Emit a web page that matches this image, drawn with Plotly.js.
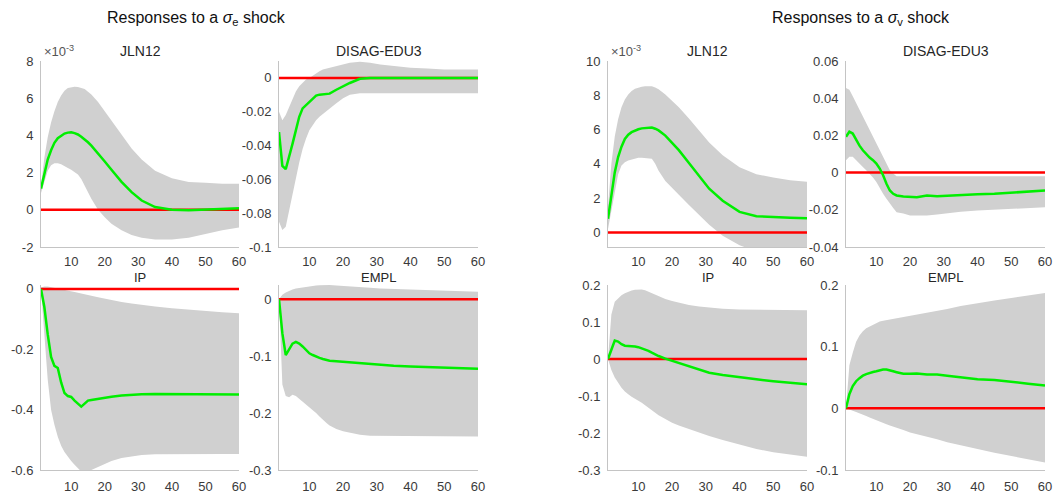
<!DOCTYPE html>
<html><head><meta charset="utf-8">
<script src="https://cdn.plot.ly/plotly-3.0.1.min.js"></script>
<style>html,body{margin:0;padding:0;background:#fff}#chart{width:1054px;height:500px}</style>
</head><body><div id="chart"></div>
<script>
// horizon (months)
const horizon = [1,2,3,4,5,6,7,8,9,10,11,12,13,14,15,16,18,20,22,25,28,31,35,40,45,50,55,60];

// ---- sigma_e shock ----
// JLN12 (x 10^-3)
const jlnE_mean = [1.14,2.0,2.7,3.2,3.6,3.85,4.0,4.1,4.15,4.17,4.12,4.05,3.93,3.8,3.63,3.45,3.05,2.6,2.15,1.5,0.95,0.5,0.15,0.0,-0.03,0.0,0.04,0.08];
const jlnE_hi   = [1.3,2.8,3.9,4.7,5.3,5.8,6.15,6.4,6.55,6.6,6.62,6.6,6.55,6.5,6.35,6.2,5.8,5.3,4.8,4.0,3.3,2.7,2.1,1.7,1.5,1.45,1.4,1.4];
const jlnE_lo   = [0.9,1.5,2.1,2.4,2.5,2.5,2.45,2.35,2.25,2.15,2.05,1.9,1.65,1.3,0.95,0.6,0.0,-0.4,-0.75,-1.1,-1.35,-1.5,-1.6,-1.6,-1.5,-1.3,-1.1,-0.95];
// DISAG-EDU3
const disE_mean = [-0.032,-0.052,-0.054,-0.047,-0.039,-0.031,-0.023,-0.018,-0.016,-0.014,-0.012,-0.0105,-0.0099,-0.0097,-0.0095,-0.0093,-0.007,-0.005,-0.003,-0.0005,0,0,0,0,0,0,0,0];
const disE_hi   = [-0.02,-0.025,-0.022,-0.017,-0.012,-0.008,-0.005,-0.003,-0.001,0.0,0.0015,0.003,0.004,0.005,0.0055,0.006,0.007,0.008,0.009,0.0095,0.009,0.008,0.007,0.006,0.0055,0.005,0.005,0.005];
const disE_lo   = [-0.085,-0.09,-0.088,-0.08,-0.07,-0.06,-0.05,-0.042,-0.036,-0.031,-0.028,-0.025,-0.023,-0.021,-0.0195,-0.018,-0.015,-0.012,-0.01,-0.009,-0.009,-0.009,-0.009,-0.009,-0.009,-0.009,-0.009,-0.009];
// IP
const ipE_mean = [0,-0.06,-0.15,-0.225,-0.255,-0.262,-0.31,-0.345,-0.355,-0.358,-0.37,-0.38,-0.39,-0.38,-0.37,-0.368,-0.364,-0.36,-0.357,-0.353,-0.35,-0.349,-0.348,-0.348,-0.349,-0.35,-0.35,-0.35];
const ipE_hi   = [0.005,0.008,0.008,0.006,0.004,0.002,0,-0.003,-0.005,-0.008,-0.01,-0.013,-0.015,-0.018,-0.02,-0.023,-0.028,-0.033,-0.037,-0.043,-0.048,-0.053,-0.058,-0.064,-0.069,-0.073,-0.077,-0.081];
const ipE_lo   = [0,-0.15,-0.3,-0.4,-0.45,-0.49,-0.52,-0.54,-0.555,-0.57,-0.583,-0.595,-0.605,-0.61,-0.605,-0.6,-0.59,-0.58,-0.57,-0.56,-0.555,-0.55,-0.548,-0.547,-0.547,-0.547,-0.547,-0.547];
// EMPL
const emE_mean = [0,-0.06,-0.098,-0.088,-0.078,-0.075,-0.078,-0.083,-0.09,-0.095,-0.098,-0.101,-0.103,-0.105,-0.107,-0.108,-0.109,-0.11,-0.111,-0.112,-0.114,-0.115,-0.117,-0.118,-0.119,-0.12,-0.121,-0.122];
const emE_hi   = [0,0.008,0.012,0.015,0.017,0.019,0.02,0.021,0.022,0.023,0.0235,0.024,0.0245,0.025,0.025,0.025,0.024,0.023,0.022,0.021,0.02,0.019,0.018,0.017,0.016,0.015,0.014,0.013];
const emE_lo   = [0,-0.15,-0.17,-0.172,-0.168,-0.17,-0.175,-0.18,-0.185,-0.19,-0.195,-0.2,-0.206,-0.212,-0.217,-0.222,-0.228,-0.232,-0.235,-0.238,-0.24,-0.241,-0.241,-0.241,-0.241,-0.241,-0.241,-0.241];

// ---- sigma_v shock ----
const jlnV_mean = [0.8,2.2,3.5,4.4,5.0,5.45,5.7,5.85,5.95,6.02,6.07,6.1,6.12,6.12,6.05,5.95,5.65,5.25,4.8,4.05,3.3,2.55,1.85,1.2,0.95,0.88,0.85,0.82];
const jlnV_hi   = [1.5,4.0,5.6,6.6,7.3,7.75,8.05,8.25,8.38,8.45,8.5,8.52,8.53,8.52,8.45,8.35,8.05,7.7,7.3,6.65,5.95,5.25,4.5,3.8,3.4,3.2,3.05,2.95];
const jlnV_lo   = [0.2,1.2,2.4,3.4,3.9,4.1,4.2,4.25,4.3,4.35,4.35,4.35,4.33,4.3,4.0,3.6,3.0,2.6,2.2,1.6,1.0,0.45,-0.2,-0.75,-1.1,-1.3,-1.45,-1.5];
const disV_mean = [0.0193,0.022,0.021,0.0175,0.0145,0.012,0.01,0.0081,0.0067,0.0049,0.0022,-0.0014,-0.006,-0.0096,-0.0114,-0.0123,-0.0128,-0.0132,-0.0132,-0.0123,-0.0127,-0.0125,-0.0123,-0.0117,-0.0114,-0.0107,-0.0103,-0.0096];
const disV_hi   = [0.0455,0.0446,0.041,0.0374,0.0338,0.030,0.0265,0.023,0.0193,0.0157,0.012,0.0085,0.005,0.0013,-0.0005,-0.002,-0.002,-0.002,-0.002,-0.002,-0.002,-0.002,-0.002,-0.002,-0.002,-0.002,-0.002,-0.002];
const disV_lo   = [0.0067,0.0085,0.0085,0.0067,0.005,0.003,0.0012,-0.0005,-0.0027,-0.005,-0.008,-0.0114,-0.014,-0.0168,-0.019,-0.0213,-0.022,-0.023,-0.023,-0.023,-0.0225,-0.022,-0.021,-0.0204,-0.02,-0.0195,-0.019,-0.0186];
const ipV_mean = [0,0.024,0.05,0.047,0.04,0.036,0.036,0.036,0.034,0.032,0.029,0.026,0.022,0.017,0.012,0.008,0.001,-0.005,-0.012,-0.021,-0.03,-0.037,-0.043,-0.05,-0.055,-0.06,-0.064,-0.068];
const ipV_hi   = [0,0.12,0.155,0.165,0.172,0.178,0.182,0.185,0.187,0.188,0.188,0.186,0.182,0.178,0.173,0.168,0.162,0.157,0.152,0.146,0.142,0.139,0.136,0.134,0.133,0.132,0.132,0.132];
const ipV_lo   = [0,-0.03,-0.05,-0.065,-0.078,-0.088,-0.095,-0.102,-0.108,-0.113,-0.118,-0.124,-0.131,-0.138,-0.145,-0.152,-0.163,-0.172,-0.18,-0.19,-0.199,-0.208,-0.219,-0.232,-0.243,-0.252,-0.259,-0.264];
const emV_mean = [0,0.023,0.036,0.044,0.049,0.053,0.0555,0.0575,0.059,0.06,0.0615,0.063,0.063,0.061,0.06,0.0586,0.056,0.056,0.0565,0.055,0.055,0.053,0.0505,0.047,0.046,0.0435,0.040,0.037];
const emV_hi   = [0,0.07,0.09,0.108,0.118,0.125,0.13,0.133,0.136,0.139,0.141,0.142,0.143,0.144,0.145,0.145,0.147,0.149,0.151,0.154,0.158,0.161,0.166,0.171,0.175,0.179,0.183,0.187];
const emV_lo   = [0,-0.002,-0.004,-0.006,-0.008,-0.01,-0.0125,-0.015,-0.0175,-0.02,-0.022,-0.024,-0.026,-0.028,-0.03,-0.032,-0.035,-0.039,-0.042,-0.046,-0.05,-0.055,-0.06,-0.066,-0.072,-0.077,-0.083,-0.088];

const panelTitles = ["JLN12","DISAG-EDU3","IP","EMPL","JLN12","DISAG-EDU3","IP","EMPL"];
const xTicks = [10,20,30,40,50,60];
const yTicksA = [-2,0,2,4,6,8];
const yTicksB = [-0.1,-0.08,-0.06,-0.04,-0.02,0];
const yTicksC = [-0.6,-0.4,-0.2,0];
const yTicksD = [-0.3,-0.2,-0.1,0];
const yTicksE = [0,2,4,6,8,10];
const yTicksF = [-0.04,-0.02,0,0.02,0.04,0.06];
const yTicksG = [-0.3,-0.2,-0.1,0,0.1,0.2];
const yTicksH = [-0.1,0,0.1,0.2];

const W = 1054, H = 500;
const colPx = [[41,239],[279,478],[608,807],[846,1045]];
const rowPx = [[61,247],[285,470]];
const titleCenterY = [51,277];
const titleSize = [14,13];
const panels = [
  {m:jlnE_mean,h:jlnE_hi,l:jlnE_lo,col:0,row:0,range:[-2,8],ticks:yTicksA},
  {m:disE_mean,h:disE_hi,l:disE_lo,col:1,row:0,range:[-0.1,0.01],ticks:yTicksB},
  {m:ipE_mean,h:ipE_hi,l:ipE_lo,col:0,row:1,range:[-0.6,0.013],ticks:yTicksC},
  {m:emE_mean,h:emE_hi,l:emE_lo,col:1,row:1,range:[-0.3,0.025],ticks:yTicksD},
  {m:jlnV_mean,h:jlnV_hi,l:jlnV_lo,col:2,row:0,range:[-0.85,10],ticks:yTicksE},
  {m:disV_mean,h:disV_hi,l:disV_lo,col:3,row:0,range:[-0.04,0.06],ticks:yTicksF},
  {m:ipV_mean,h:ipV_hi,l:ipV_lo,col:2,row:1,range:[-0.3,0.2],ticks:yTicksG},
  {m:emV_mean,h:emV_hi,l:emV_lo,col:3,row:1,range:[-0.1,0.2],ticks:yTicksH}
];

const font = "Liberation Sans, Arial, sans-serif";
const data = [], annotations = [];
const layout = {width:W,height:H,margin:{l:0,r:0,t:0,b:0},paper_bgcolor:'#fff',plot_bgcolor:'rgba(0,0,0,0)',showlegend:false,font:{family:font,size:13,color:'#3a3a3a'}};

panels.forEach((p,i)=>{
  const n = i+1, sx = n===1?'':String(n);
  const xa='x'+sx, ya='y'+sx;
  const [c0,c1]=colPx[p.col], [r0,r1]=rowPx[p.row];
  layout['xaxis'+sx] = {domain:[c0/W,c1/W],anchor:ya,range:[1,60],tickvals:xTicks,ticktext:xTicks.map(String),
    showline:true,linecolor:'#c4c4c4',linewidth:1,showgrid:false,zeroline:false,ticks:'',ticklabelstandoff:p.row===0?2:4,
    tickfont:{family:font,size:13,color:'#3a3a3a'},fixedrange:true};
  layout['yaxis'+sx] = {domain:[1-r1/H,1-r0/H],anchor:xa,range:p.range,tickvals:p.ticks,ticktext:p.ticks.map(String),
    showline:true,linecolor:'#c4c4c4',linewidth:1,showgrid:false,zeroline:false,ticks:'',ticklabelstandoff:4,
    tickfont:{family:font,size:13,color:'#3a3a3a'},fixedrange:true};
  data.push({x:horizon.concat(horizon.slice().reverse()),y:p.h.concat(p.l.slice().reverse()),xaxis:xa,yaxis:ya,
    fill:'toself',fillcolor:'#d0d0d0',line:{width:0},mode:'lines',hoverinfo:'skip'});
  data.push({x:[horizon[0],horizon[horizon.length-1]],y:[0,0],xaxis:xa,yaxis:ya,mode:'lines',line:{color:'#ff0000',width:2.5}});
  data.push({x:horizon,y:p.m,xaxis:xa,yaxis:ya,mode:'lines',line:{color:'#00ee00',width:2.5}});
  annotations.push({text:panelTitles[i],xref:'paper',yref:'paper',x:(c0+c1)/2/W,y:1-titleCenterY[p.row]/H,xanchor:'center',yanchor:'middle',
    borderpad:0,showarrow:false,font:{family:font,size:titleSize[p.row],color:'#262626'}});
});
// x10^-3 exponent labels
[0,4].forEach(i=>{
  const c0 = colPx[panels[i].col][0];
  annotations.push({text:'×10<sup>-3</sup>',xref:'paper',yref:'paper',x:(c0+1)/W,y:1-51/H,xanchor:'left',yanchor:'middle',
    showarrow:false,font:{family:font,size:13,color:'#555'}});
});
annotations.push({text:'Responses to a <i>σ</i><sub>e</sub> shock',xref:'paper',yref:'paper',x:105/W,y:1-18/H,xanchor:'left',yanchor:'middle',showarrow:false,font:{family:font,size:16,color:'#111'}});
annotations.push({text:'Responses to a <i>σ</i><sub>v</sub> shock',xref:'paper',yref:'paper',x:770/W,y:1-18/H,xanchor:'left',yanchor:'middle',showarrow:false,font:{family:font,size:16,color:'#111'}});
layout.annotations = annotations;

Plotly.newPlot('chart',data,layout,{staticPlot:true,displayModeBar:false});
</script></body></html>
